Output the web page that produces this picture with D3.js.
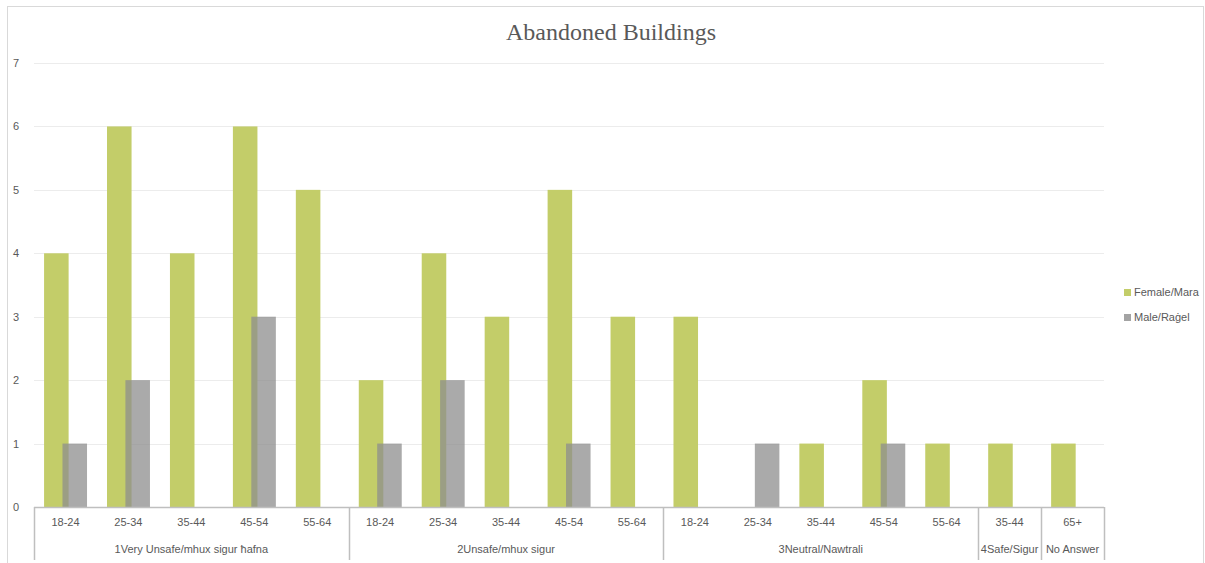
<!DOCTYPE html>
<html>
<head>
<meta charset="utf-8">
<script src="https://cdn.jsdelivr.net/npm/d3@7"></script>
<style>
  body { margin: 0; background: #fff; }
  svg { display: block; }
</style>
</head>
<body>
<svg id="chart"></svg>
<script>
// Data
const groups = [
  { name: "1Very Unsafe/mhux sigur ħafna", ages: ["18-24", "25-34", "35-44", "45-54", "55-64"] },
  { name: "2Unsafe/mhux sigur", ages: ["18-24", "25-34", "35-44", "45-54", "55-64"] },
  { name: "3Neutral/Nawtrali", ages: ["18-24", "25-34", "35-44", "45-54", "55-64"] },
  { name: "4Safe/Sigur", ages: ["35-44"] },
  { name: "No Answer", ages: ["65+"] },
];
const femaleValues = [4, 6, 4, 6, 5, 2, 4, 3, 5, 3, 3, 0, 1, 2, 1, 1, 1];
const maleValues = [1, 2, 0, 3, 0, 1, 2, 0, 1, 0, 0, 1, 0, 1, 0, 0, 0];
const seriesNames = ["Female/Mara", "Male/Raġel"];
const yTicks = [0, 1, 2, 3, 4, 5, 6, 7];

// Flatten categories
const leaves = [];
groups.forEach((g, gi) => g.ages.forEach((a) => leaves.push({ id: gi + "|" + a, age: a, group: gi })));
const data = leaves.map((l, i) => ({ ...l, female: femaleValues[i], male: maleValues[i] }));

const W = 1205, H = 563;
const plot = { left: 34, right: 1104, top: 63, bottom: 507 };

const svg = d3.select("#chart").attr("width", W).attr("height", H);

// Chart border
svg.append("rect")
  .attr("x", 7.5).attr("y", 6.5)
  .attr("width", 1196).attr("height", 620)
  .attr("fill", "none").attr("stroke", "#d9d9d9");

// Scales
const x = d3.scaleBand().domain(data.map((d) => d.id)).range([plot.left, plot.right]).padding(0);
const y = d3.scaleLinear().domain([0, 7]).range([plot.bottom, plot.top]);
const bw = x.bandwidth();
const barW = bw * 0.39;
const offF = bw * 0.16;
const offM = offF + barW * 0.75;

// Gridlines
svg.append("g")
  .selectAll("line")
  .data(yTicks.filter((t) => t > 0))
  .enter()
  .append("line")
  .attr("x1", plot.left).attr("x2", plot.right)
  .attr("y1", (d) => Math.round(y(d)) + 0.5).attr("y2", (d) => Math.round(y(d)) + 0.5)
  .attr("stroke", "#ececec");

// Y axis labels
const yAxis = svg.append("g")
  .attr("transform", `translate(${plot.left},0)`)
  .call(d3.axisLeft(y).tickValues(yTicks).tickFormat(d3.format("d")).tickSize(0).tickPadding(15));
yAxis.select(".domain").remove();
yAxis.selectAll("text")
  .attr("fill", "#595959")
  .style("font-family", "Liberation Sans, Arial, sans-serif")
  .style("font-size", "11px");

// Bars
svg.append("g")
  .selectAll("rect")
  .data(data)
  .enter()
  .append("rect")
  .attr("x", (d) => x(d.id) + offF)
  .attr("y", (d) => y(d.female))
  .attr("width", barW)
  .attr("height", (d) => y(0) - y(d.female))
  .attr("fill", "#c3cd69");

svg.append("g")
  .selectAll("rect")
  .data(data.filter((d) => d.male > 0))
  .enter()
  .append("rect")
  .attr("x", (d) => x(d.id) + offM)
  .attr("y", (d) => y(d.male))
  .attr("width", barW)
  .attr("height", (d) => y(0) - y(d.male))
  .attr("fill", "#8e8e8e")
  .attr("fill-opacity", 0.75);

// X axis line
svg.append("line")
  .attr("x1", plot.left).attr("x2", plot.right)
  .attr("y1", plot.bottom + 0.5).attr("y2", plot.bottom + 0.5)
  .attr("stroke", "#bfbfbf").attr("stroke-width", 1.5);

// Leaf labels
const labelFont = "Liberation Sans, Arial, sans-serif";
svg.append("g")
  .selectAll("text")
  .data(data)
  .enter()
  .append("text")
  .attr("x", (d) => x(d.id) + bw / 2)
  .attr("y", 526)
  .attr("text-anchor", "middle")
  .attr("fill", "#595959")
  .style("font-family", labelFont)
  .style("font-size", "11px")
  .text((d) => d.age);

// Group separators and labels
let start = 0;
const groupPos = groups.map((g) => {
  const first = data[start].id;
  const last = data[start + g.ages.length - 1].id;
  start += g.ages.length;
  return { name: g.name, x0: x(first), x1: x(last) + bw };
});
const sepXs = [groupPos[0].x0, ...groupPos.map((g) => g.x1)];
svg.append("g")
  .selectAll("line")
  .data(sepXs)
  .enter()
  .append("line")
  .attr("x1", (d) => Math.round(d) + 0.5).attr("x2", (d) => Math.round(d) + 0.5)
  .attr("y1", plot.bottom).attr("y2", 560)
  .attr("stroke", "#bfbfbf").attr("stroke-width", 1.5);

svg.append("g")
  .selectAll("text")
  .data(groupPos)
  .enter()
  .append("text")
  .attr("x", (d) => (d.x0 + d.x1) / 2)
  .attr("y", 553)
  .attr("text-anchor", "middle")
  .attr("fill", "#595959")
  .style("font-family", labelFont)
  .style("font-size", "11px")
  .text((d) => d.name);

// Title
svg.append("text")
  .attr("x", 611)
  .attr("y", 40)
  .attr("text-anchor", "middle")
  .attr("fill", "#595959")
  .style("font-family", "Liberation Serif, DejaVu Serif, serif")
  .style("font-size", "24px")
  .text("Abandoned Buildings");

// Legend
const legendColors = ["#c3cd69", "#a3a3a3"];
const legend = svg.append("g")
  .selectAll("g")
  .data(seriesNames)
  .enter()
  .append("g")
  .attr("transform", (d, i) => `translate(1124,${289 + i * 25})`);
legend.append("rect")
  .attr("width", 7).attr("height", 7)
  .attr("fill", (d, i) => legendColors[i]);
legend.append("text")
  .attr("x", 10).attr("y", 7)
  .attr("fill", "#595959")
  .style("font-family", labelFont)
  .style("font-size", "11px")
  .text((d) => d);
</script>
</body>
</html>
